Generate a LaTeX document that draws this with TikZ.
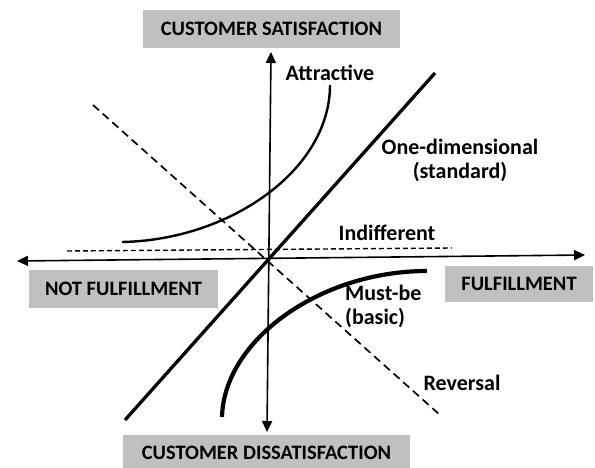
\documentclass[tikz,border=0pt]{standalone}
\usepackage{fontspec}
\setmainfont{Carlito}
\usetikzlibrary{arrows.meta}
\definecolor{boxgray}{RGB}{192,192,192}
\begin{document}
\begin{tikzpicture}[x=1pt,y=-1pt,
  lbl/.style={font=\fontsize{22}{24}\selectfont\bfseries, inner sep=0pt},
  graybox/.style={fill=boxgray, draw=none, font=\fontsize{20.5}{22}\selectfont\bfseries, inner sep=0pt, anchor=center},
  axis/.style={line width=1.6pt, {Triangle[length=11pt,width=10pt]}-{Triangle[length=11pt,width=10pt]}},
  revline/.style={line width=1.7pt, dash pattern=on 8pt off 5pt},
  indline/.style={line width=1.4pt, dash pattern=on 5pt off 3pt}]
\useasboundingbox (0,0) rectangle (595,468);
% boxes
\node[graybox, minimum width=257pt, minimum height=38pt] (sat) at (271.5,29) {CUSTOMER SATISFACTION};
\node[graybox, minimum width=189pt, minimum height=38pt] (notf) at (123.5,289) {NOT FULFILLMENT};
\node[graybox, minimum width=148pt, minimum height=36pt] (ful) at (519,284) {FULFILLMENT};
\node[graybox, minimum width=287pt, minimum height=36pt] (dis) at (266.5,453) {CUSTOMER DISSATISFACTION};
% axes
\coordinate (vb) at (267,432);
\coordinate (vt) at (271,52);
\coordinate (hl) at (17,261);
\coordinate (hr) at (585,255);
\draw[axis] (vb) -- (vt);
\draw[axis] (hl) -- (hr);
% one-dimensional
\coordinate (od1) at (125,420);
\coordinate (od2) at (435,73);
\draw[line width=3.3pt] (od1) -- (od2);
% reversal
\coordinate (rv1) at (93,105);
\coordinate (rv2) at (440,415);
\draw[revline] (rv1) -- (rv2);
% indifferent
\coordinate (in1) at (67,251);
\coordinate (in2) at (452,248);
\draw[indline] (in1) -- (in2);
% attractive
\coordinate (at1) at (122,242);
\coordinate (at2) at (330,85);
\draw[line width=2.4pt] (at1) .. controls (230,240) and (330,170) .. (at2);
% must-be
\coordinate (mb1) at (222,417);
\coordinate (mb2) at (427,271);
\draw[line width=4.2pt] (mb1) .. controls (224,340) and (320,271) .. (mb2);
% labels
\node[lbl] (latt) at (330,73) {Attractive};
\node[lbl, align=center] (lone) at (460,160) {One-dimensional\\(standard)};
\node[lbl] (lind) at (387,233) {Indifferent};
\node[lbl, align=left, anchor=west] (lmust) at (345,306) {Must-be\\(basic)};
\node[lbl] (lrev) at (462,383) {Reversal};
\end{tikzpicture}
\end{document}
